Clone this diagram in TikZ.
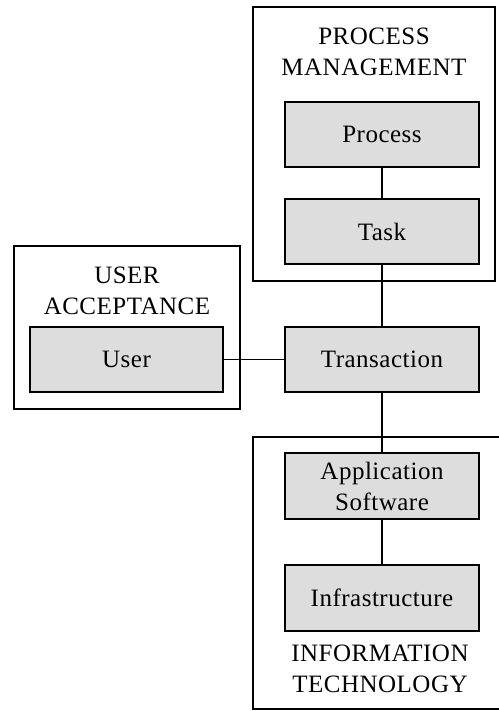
\documentclass[tikz,border=0pt]{standalone}
\usepackage{fontspec}
\setmainfont{Liberation Serif}[LetterSpace=2]
\begin{document}
\begin{tikzpicture}[x=1bp,y=-1bp,
  every node/.style={font=\fontsize{25bp}{31bp}\selectfont, align=center, inner sep=0pt},
  gbox/.style={draw, line width=1.5bp, fill=boxgray, minimum width=194bp, minimum height=65bp},
  cbox/.style={draw, line width=1.5bp, fill=white},
  conn/.style={line width=1.5bp}]
\definecolor{boxgray}{HTML}{DDDDDD}
\useasboundingbox (0,0) rectangle (499,711);
% containers
\node[cbox, minimum width=242bp, minimum height=274bp] (pm) at (374,144) {};
\node[cbox, minimum width=226bp, minimum height=163bp] (ua) at (127,327.5) {};
\node[cbox, minimum width=252bp, minimum height=272bp] (it) at (379,573) {};
% container titles
\node (pmt) at (374,51.5) {PROCESS\\MANAGEMENT};
\node (uat) at (127,290.5) {USER\\ACCEPTANCE};
\node (itt) at (380,668.5) {INFORMATION\\TECHNOLOGY};
% inner boxes
\node[gbox] (process) at (382,134.5) {Process};
\node[gbox] (task) at (382,231.5) {Task};
\node[gbox, minimum width=193bp] (user) at (126.5,359.5) {User};
\node[gbox] (trans) at (382,359.5) {Transaction};
\node[gbox, minimum height=66bp] (app) at (382,486) {Application\\Software};
\node[gbox, minimum height=66bp] (infra) at (382,598) {Infrastructure};
% connectors
\draw[conn] (process) -- (task);
\draw[conn] (task) -- (trans);
\draw[conn] (user) -- (trans);
\draw[conn] (trans) -- (app);
\draw[conn] (app) -- (infra);
\end{tikzpicture}
\end{document}
